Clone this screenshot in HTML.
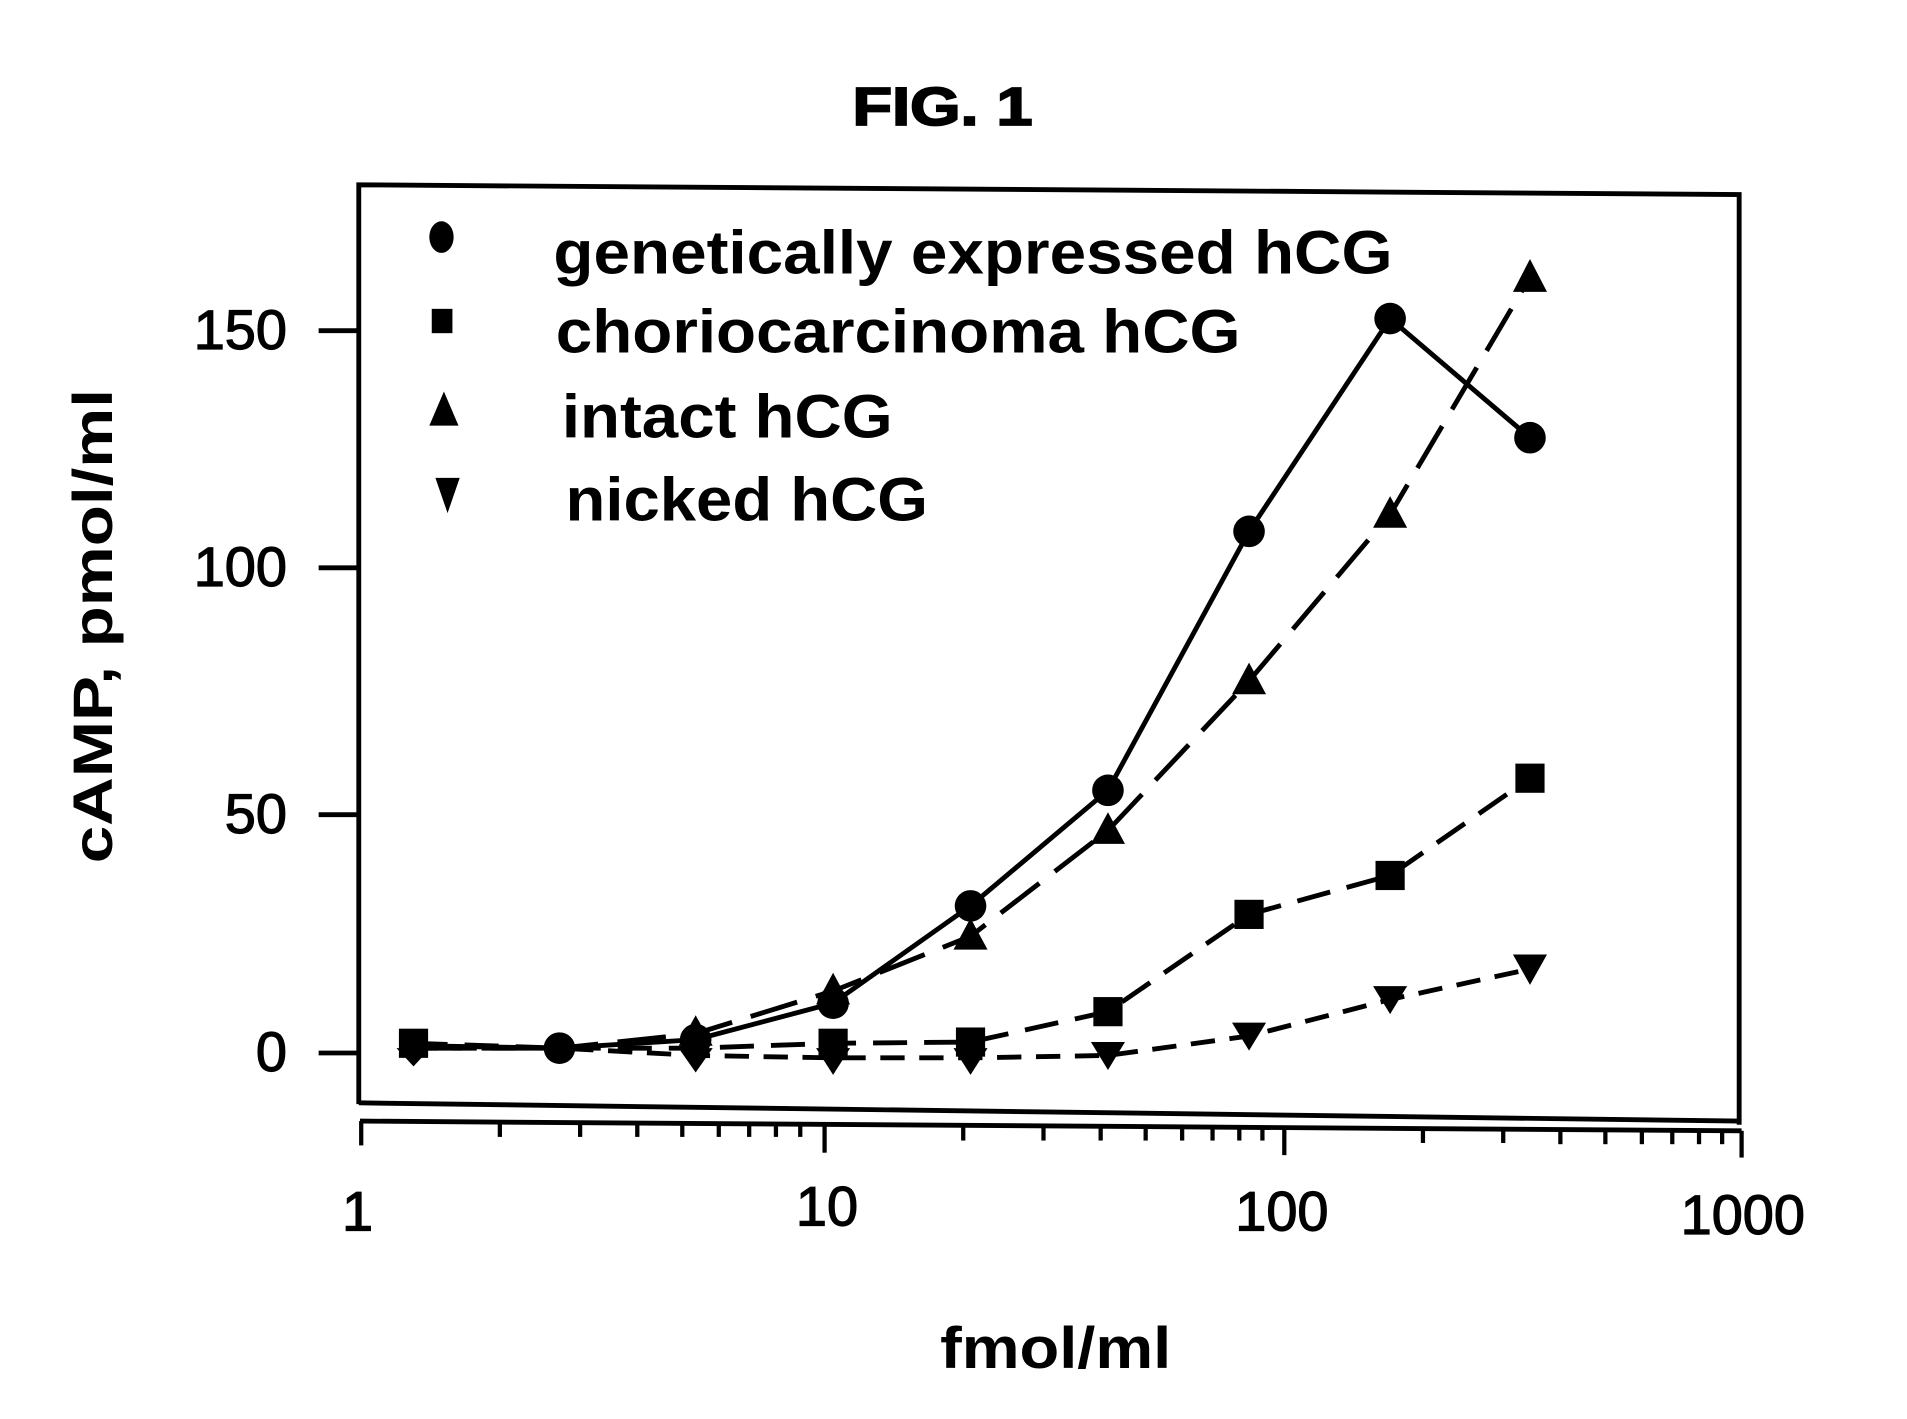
<!DOCTYPE html>
<html><head><style>html,body{margin:0;padding:0;background:#fff}svg{display:block}</style></head>
<body>
<svg width="1907" height="1419" viewBox="0 0 1568 1167" preserveAspectRatio="none" xmlns="http://www.w3.org/2000/svg" font-family="Liberation Sans, Arial, sans-serif" font-weight="bold">
<rect width="1568" height="1167" fill="#fff"/>
<text x="775" y="103" font-size="44" text-anchor="middle" textLength="148" lengthAdjust="spacingAndGlyphs" stroke="#000" stroke-width="1.5">FIG. 1</text>
<g stroke="#000" stroke-width="4" fill="none">
<polyline points="295,908 295,152 1430,160 1430,925"/>
<line x1="295" y1="907" x2="1430" y2="922"/>
<line x1="296" y1="922" x2="1432" y2="930"/>
<line x1="262" y1="272" x2="295" y2="272"/>
<line x1="262" y1="467" x2="295" y2="467"/>
<line x1="262" y1="670" x2="295" y2="670"/>
<line x1="262" y1="866" x2="295" y2="866"/>
</g>
<g stroke="#000" stroke-width="3.5">
<line x1="297" y1="922" x2="297" y2="942"/>
<line x1="678" y1="924" x2="678" y2="948"/>
<line x1="1056" y1="927" x2="1056" y2="950"/>
<line x1="1432" y1="930" x2="1432" y2="952"/>
<line x1="411" y1="923" x2="411" y2="935"/><line x1="477" y1="923" x2="477" y2="935"/><line x1="524" y1="923" x2="524" y2="935"/><line x1="561" y1="923" x2="561" y2="935"/><line x1="591" y1="923" x2="591" y2="935"/><line x1="616" y1="923" x2="616" y2="935"/><line x1="638" y1="923" x2="638" y2="935"/><line x1="658" y1="923" x2="658" y2="935"/>
<line x1="792" y1="926" x2="792" y2="938"/><line x1="858" y1="926" x2="858" y2="938"/><line x1="905" y1="926" x2="905" y2="938"/><line x1="942" y1="926" x2="942" y2="938"/><line x1="972" y1="926" x2="972" y2="938"/><line x1="997" y1="926" x2="997" y2="938"/><line x1="1019" y1="926" x2="1019" y2="938"/><line x1="1038" y1="926" x2="1038" y2="938"/>
<line x1="1170" y1="928" x2="1170" y2="940"/><line x1="1236" y1="928" x2="1236" y2="940"/><line x1="1283" y1="929" x2="1283" y2="941"/><line x1="1320" y1="929" x2="1320" y2="941"/><line x1="1350" y1="929" x2="1350" y2="941"/><line x1="1375" y1="929" x2="1375" y2="941"/><line x1="1397" y1="929" x2="1397" y2="941"/><line x1="1416" y1="929" x2="1416" y2="941"/>
</g>
<g font-size="46" font-weight="normal" text-anchor="end" stroke="#000" stroke-width="1">
<text x="236" y="287">150</text><text x="236" y="482">100</text><text x="236" y="685">50</text><text x="236" y="881">0</text>
</g>
<g font-size="46" font-weight="normal" text-anchor="middle" stroke="#000" stroke-width="1">
<text x="294" y="1012">1</text><text x="680" y="1008">10</text><text x="1054" y="1012">100</text><text x="1433" y="1015">1000</text>
</g>
<text x="868" y="1125" font-size="48" text-anchor="middle" textLength="190" lengthAdjust="spacingAndGlyphs">fmol/ml</text>
<text transform="translate(92,515) rotate(-90)" font-size="46" text-anchor="middle" textLength="390" lengthAdjust="spacingAndGlyphs">cAMP, pmol/ml</text>
<g font-size="50">
<text x="455" y="225" textLength="690" lengthAdjust="spacingAndGlyphs">genetically expressed hCG</text>
<text x="457" y="290" textLength="563" lengthAdjust="spacingAndGlyphs">choriocarcinoma hCG</text>
<text x="462" y="360" textLength="272" lengthAdjust="spacingAndGlyphs">intact hCG</text>
<text x="465" y="428" textLength="298" lengthAdjust="spacingAndGlyphs">nicked hCG</text>
</g>
<ellipse cx="363" cy="195" rx="10" ry="13"/>
<rect x="355" y="254" width="17" height="20"/>
<polygon points="365,322 377,350 353,350"/>
<polygon points="358,393 378,393 368,422"/>
<g fill="none" stroke="#000" stroke-width="4">
<polyline points="340,860 460,862 572,855 685,825 798,745 911,650 1027,437 1143,262 1258,360"/>
<polyline stroke-dasharray="28,14" points="340,858 460,862 572,862 685,858 798,857 911,832 1027,752 1143,720 1258,640"/>
<polyline stroke-dasharray="40,16" points="340,862 460,862 572,850 685,815 798,770 911,683 1027,560 1143,423 1258,228"/>
<polyline stroke-dasharray="20,12" points="340,862 460,862 572,868 685,870 798,870 911,868 1027,852 1143,822 1258,797"/>
</g>
<g>
<circle cx="460" cy="862" r="13"/><circle cx="572" cy="855" r="13"/><circle cx="685" cy="825" r="13"/><circle cx="798" cy="745" r="13"/><circle cx="911" cy="650" r="13"/><circle cx="1027" cy="437" r="13"/><circle cx="1143" cy="262" r="13"/><circle cx="1258" cy="360" r="13"/>
<rect x="328" y="846" width="24" height="24"/><rect x="673" y="846" width="24" height="24"/><rect x="786" y="845" width="24" height="24"/><rect x="899" y="820" width="24" height="24"/><rect x="1015" y="740" width="24" height="24"/><rect x="1131" y="708" width="24" height="24"/><rect x="1246" y="628" width="24" height="24"/>
<polygon points="572,835 586,860 558,860"/><polygon points="685,800 699,826 671,826"/><polygon points="798,755 812,781 784,781"/><polygon points="911,668 925,694 897,694"/><polygon points="1027,545 1041,571 1013,571"/><polygon points="1143,408 1157,434 1129,434"/><polygon points="1258,213 1272,240 1244,240"/>
<polygon points="326,862 354,862 340,877"/><polygon points="558,862 586,862 572,882"/><polygon points="671,862 699,862 685,884"/><polygon points="784,862 812,862 798,884"/><polygon points="897,857 925,857 911,880"/><polygon points="1013,841 1041,841 1027,864"/><polygon points="1129,811 1157,811 1143,834"/><polygon points="1244,785 1272,785 1258,810"/>
</g>
</svg>
</body></html>
